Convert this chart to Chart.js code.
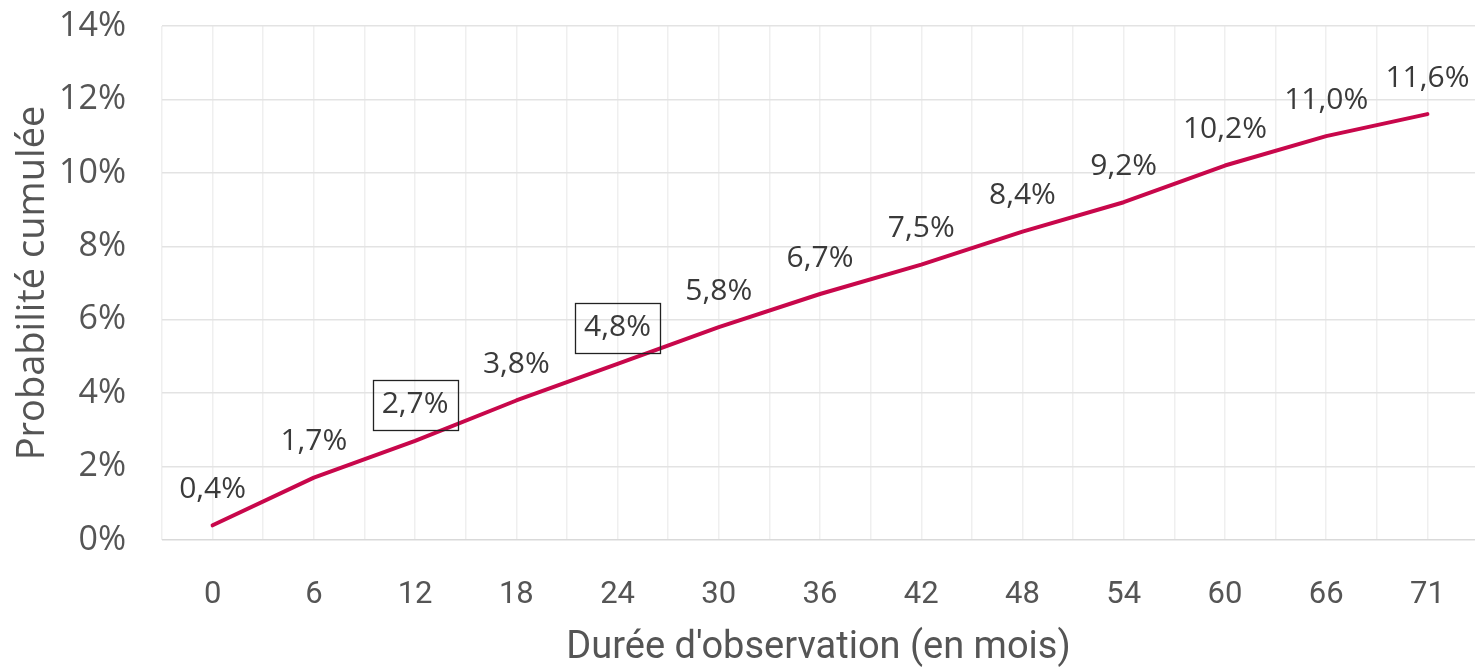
<!doctype html>
<html>

<head>
  <meta charset="utf-8">
  <title>Probabilité cumulée</title>
  <script src="https://cdn.jsdelivr.net/npm/chart.js@4.4.1/dist/chart.umd.min.js"></script>
  <style>
    html, body {
      margin: 0;
      padding: 0;
      background: #fff;
    }
    .chart {
      width: 1475px;
      height: 671px;
    }
  </style>
</head>

<body>
  <div class="chart">
    <canvas id="myChart" width="1475" height="671"></canvas>
  </div>

  <script>
    // durée d'observation (mois)
    var months = ['0', '6', '12', '18', '24', '30', '36', '42', '48', '54', '60', '66', '71'];
    // probabilité cumulée (%)
    var probabilities = [0.4, 1.7, 2.7, 3.8, 4.8, 5.8, 6.7, 7.5, 8.4, 9.2, 10.2, 11.0, 11.6];
    // étiquettes encadrées
    var boxedMonths = ['12', '24'];

    var lineColor = '#c8074b';
    var axisFont = '"Open Sans", "Noto Sans", sans-serif';
    var narrowFont = 'Roboto, "Open Sans", sans-serif';

    function formatPct(v) {
      return v.toFixed(1).replace('.', ',') + '%';
    }

    var valueLabels = {
      id: 'valueLabels',
      afterDatasetsDraw: function(chart) {
        var ctx = chart.ctx;
        var meta = chart.getDatasetMeta(0);
        ctx.save();
        ctx.font = '30px ' + axisFont;
        ctx.fillStyle = '#3a3a3a';
        ctx.textAlign = 'center';
        ctx.textBaseline = 'middle';
        meta.data.forEach(function(pt, i) {
          var text = formatPct(probabilities[i]);
          var cx = pt.x;
          var cy = pt.y - 36;
          ctx.fillText(text, cx, cy);
          if (boxedMonths.indexOf(months[i]) !== -1) {
            var w = ctx.measureText(text).width + 18;
            var h = 50;
            ctx.strokeStyle = '#222';
            ctx.lineWidth = 1.3;
            ctx.strokeRect(Math.round(cx - w / 2) + 0.5, Math.round(cy - h / 2) + 0.5, Math.round(w), h);
          }
        });
        ctx.restore();
      }
    };

    var config = {
      type: 'line',
      data: {
        datasets: [{
          label: 'Probabilité cumulée',
          data: probabilities.map(function(v, i) { return { x: i, y: v }; }),
          borderColor: lineColor,
          borderWidth: 4,
          borderCapStyle: 'round',
          borderJoinStyle: 'round',
          pointRadius: 0,
          tension: 0,
          fill: false
        }]
      },
      options: {
        responsive: false,
        animation: false,
        layout: { padding: { top: 26, right: 0, bottom: 0, left: 0 } },
        plugins: {
          legend: { display: false },
          tooltip: { enabled: false }
        },
        scales: {
          x: {
            type: 'linear',
            min: -0.5,
            max: 12.47,
            afterBuildTicks: function(scale) {
              var ticks = [];
              for (var i = -1; i <= 24; i++) ticks.push({ value: i / 2 });
              scale.ticks = ticks;
            },
            afterFit: function(scale) {
              scale.height = 131;
              scale.paddingLeft = 0;
              scale.paddingRight = 0;
            },
            border: { display: false },
            grid: {
              color: '#efefef',
              lineWidth: 1.5,
              drawTicks: false
            },
            ticks: {
              autoSkip: false,
              maxRotation: 0,
              padding: 37,
              color: '#555',
              font: { family: narrowFont, size: 31 },
              callback: function(value) {
                return Number.isInteger(value) ? months[value] : '';
              }
            },
            title: {
              display: true,
              text: "Durée d'observation (en mois)",
              color: '#555',
              font: { family: narrowFont, size: 38 },
              padding: { top: 0, bottom: 0 }
            }
          },
          y: {
            min: 0,
            max: 14,
            afterFit: function(scale) {
              scale.width = 162;
              scale.paddingTop = 0;
              scale.paddingBottom = 0;
            },
            border: { display: false },
            grid: {
              color: function(c) { return c.tick.value === 0 ? '#d9d9d9' : '#e3e3e3'; },
              lineWidth: 1.5,
              drawTicks: false
            },
            ticks: {
              stepSize: 2,
              padding: 36,
              color: '#555',
              font: { family: axisFont, size: 34 },
              callback: function(value) { return value + '%'; }
            },
            title: {
              display: true,
              text: 'Probabilité cumulée',
              color: '#555',
              font: { family: axisFont, size: 38 },
              padding: { top: 10, bottom: 0 }
            }
          }
        }
      },
      plugins: [valueLabels]
    };

    var ctx = document.getElementById('myChart').getContext('2d');
    window.myChart = new Chart(ctx, config);
  </script>
</body>

</html>
